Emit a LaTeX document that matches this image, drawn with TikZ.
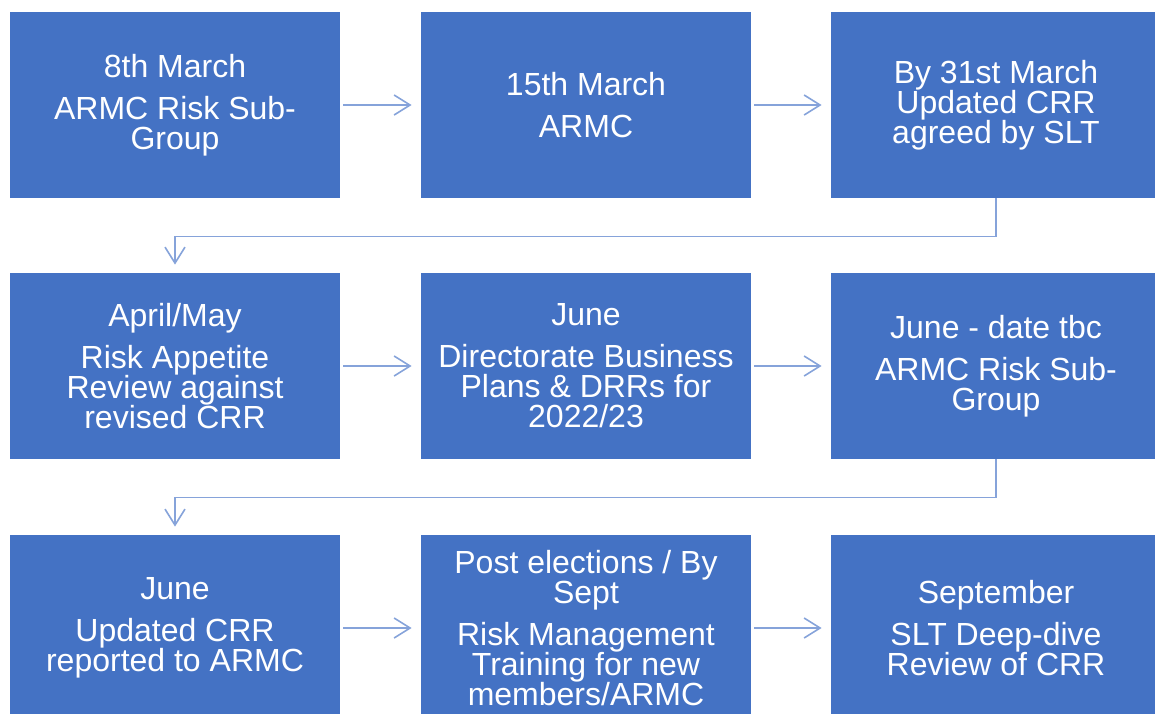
\documentclass[tikz,border=0pt]{standalone}
\usepackage{fontspec}
\setmainfont{Liberation Sans}
\usetikzlibrary{arrows.meta}
\usetikzlibrary{positioning}

\definecolor{boxblue}{HTML}{4472C4}
\definecolor{linkblue}{HTML}{86A3DA}

\begin{document}
\begin{tikzpicture}[x=0.5pt,y=-0.5pt,
        stage/.style={fill=boxblue, text=white, inner sep=0pt, align=center,
            minimum width=165pt, minimum height=93pt,
            font=\fontsize{16}{15}\selectfont},
        link/.style={draw=linkblue, line width=0.8pt, shorten <=1.5pt, shorten >=4.5pt,
            -{Straight Barb[length=8pt,width=10pt]}}]
        \useasboundingbox (0,0) rectangle (1155,713);
        \node[stage] (mar8) at (175,105) {8th March\\[6pt]ARMC Risk Sub-\\Group};
        \node[stage] (mar15) at (586,105) {15th March\\[6pt]ARMC};
        \node[stage] (mar31) at (996,105) {By 31st March\\Updated CRR\\agreed by SLT};
        \node[stage] (aprmay) at (175,366) {April/May\\[6pt]Risk Appetite\\Review against\\revised CRR};
        \node[stage] (junebp) at (586,366) {June\\[6pt]Directorate Business\\Plans \& DRRs for\\2022/23};
        \node[stage] (junesub) at (996,366) {June - date tbc\\[6pt]ARMC Risk Sub-\\Group};
        \node[stage] (junecrr) at (175,628) {June\\[6pt]Updated CRR\\reported to ARMC};
        \node[stage] (training) at (586,628) {Post elections / By\\Sept\\[6pt]Risk Management\\Training for new\\members/ARMC};
        \node[stage] (sept) at (996,628) {September\\[6pt]SLT Deep-dive\\Review of CRR};
        \draw[link] (mar8) -- (mar15);
        \draw[link] (mar15) -- (mar31);
        \draw[link, shorten <=0pt, shorten >=4pt] (mar31.south) -- ++(0,38) -| (aprmay.north);
        \draw[link] (aprmay) -- (junebp);
        \draw[link] (junebp) -- (junesub);
        \draw[link, shorten <=0pt, shorten >=4pt] (junesub.south) -- ++(0,38) -| (junecrr.north);
        \draw[link] (junecrr) -- (training);
        \draw[link] (training) -- (sept);
    \end{tikzpicture}
\end{document}
